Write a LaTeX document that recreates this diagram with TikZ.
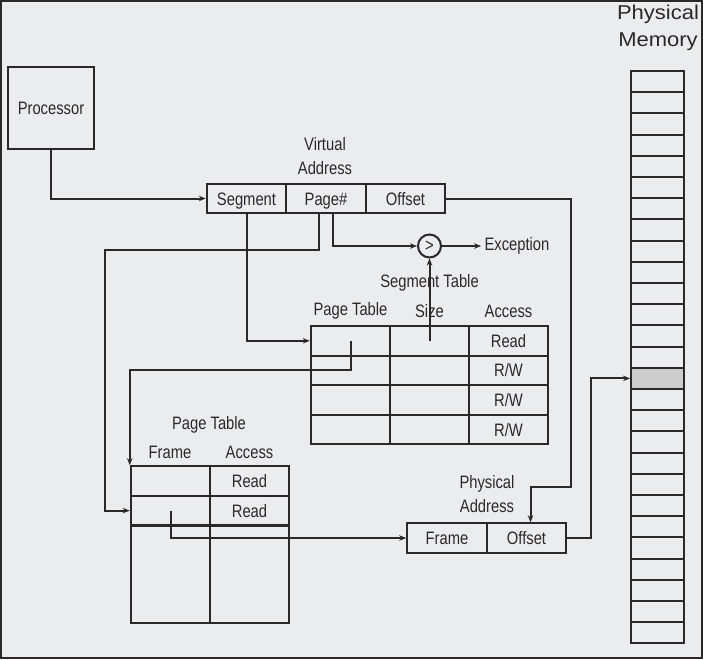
\documentclass[tikz,border=0pt]{standalone}
\usepackage{fontspec}
\setmainfont[FakeStretch=0.82]{Liberation Sans}
\newfontfamily\titlefont[FakeStretch=1.1]{Liberation Sans}
\usetikzlibrary{arrows.meta}
\definecolor{paper}{RGB}{235,236,238}
\definecolor{ink}{RGB}{45,40,40}
\definecolor{shade}{RGB}{205,205,205}
\begin{document}
\begin{tikzpicture}[x=1pt,y=-1pt,
    font=\fontsize{18}{21}\selectfont,text=ink,
    cell/.style={draw=ink,line width=2pt,inner sep=0pt,minimum width=79.5pt,minimum height=29.6pt,text height=13pt,text depth=0pt},
    memcell/.style={draw=ink,line width=2pt,inner sep=0pt,minimum width=53pt,minimum height=21.2pt},
    lbl/.style={align=center,font=\fontsize{18}{24}\selectfont},
    arr/.style={draw=ink,line width=2pt,-{Stealth[length=7pt,width=5.5pt]}}]
  \fill[paper] (0,0) rectangle (703,659);
  \draw[ink,line width=2pt] (1,1) rectangle (702,658);
  \node[draw=ink,line width=2pt,minimum width=86pt,minimum height=82pt] (proc) at (51,108) {Processor};
  \node[lbl] (valbl) at (325,156) {Virtual\\Address};
  \node[cell] (seg) at (246.5,198.5) {Segment};
  \node[cell] (pg) at (326,198.5) {Page\#};
  \node[cell] (off) at (405.5,198.5) {Offset};
  \node[draw=ink,line width=2pt,circle,minimum size=23pt,inner sep=0pt] (cmp) at (429.5,246) {>};
  \node (exc) at (517,246) {Exception};
  \draw
    (429.5,283) node (stlbl) {Segment Table}
    (350.5,311) node (stpt) {Page Table}
    (429.5,311) node (stsize) {Size}
    (508.5,311) node (stacc) {Access};
  \foreach \r in {1,...,4} {
    \node[cell] (st-\r-1) at (350.5,311.2+29.6*\r) {};
    \node[cell] (st-\r-2) at (429.5,311.2+29.6*\r) {};
    \node[cell] (st-\r-3) at (508.5,311.2+29.6*\r) {\ifnum\r=1 Read\else R/W\fi};
  }
  \draw
    (209,425) node (ptlbl) {Page Table}
    (170,452) node (ptframe) {Frame}
    (249.5,452) node (ptacc) {Access};
  \foreach \r in {1,2} {
    \node[cell] (pt-\r-1) at (170.5,451.4+29.6*\r) {};
    \node[cell] (pt-\r-2) at (249.5,451.4+29.6*\r) {Read};
  }
  \node[cell,minimum height=97pt] (pt-3-1) at (170.5,574.5) {};
  \node[cell,minimum height=97pt] (pt-3-2) at (249.5,574.5) {};
  \node[lbl] (palbl) at (487,494) {Physical\\Address};
  \node[cell] (paf) at (447,538) {Frame};
  \node[cell] (pao) at (526.5,538) {Offset};
  \node[align=center,font=\titlefont\fontsize{20}{27}\selectfont] (memlbl) at (658,28) {Physical\\Memory};
  \foreach \i in {0,...,26} {
    \ifnum\i=14 \def\memfill{shade}\else\def\memfill{none}\fi
    \node[memcell,fill=\memfill] (mem-\i) at (657.5,81.6+21.2*\i) {};
  }
  \coordinate (pgturn) at (105,250);
  \coordinate (offturn) at (571,487);
  \begin{scope}[arr]
    \draw (proc.south) |- (seg.west);
    \draw (seg.south) |- (st-1-1.west);
    \draw ([xshift=-7pt]pg.south) |- (pgturn) |- (pt-2-1.west);
    \draw ([xshift=7pt]pg.south) |- (cmp.west);
    \draw (cmp.east) -- (exc.west);
    \draw (st-1-2.center) -- (cmp.south);
    \draw (st-1-1.center) -- (st-2-1.center) -| (pt-1-1.north west);
    \draw (pt-2-1.center) |- (paf.west);
    \draw (off.east) -| (offturn) -| ([xshift=4pt]pao.north);
    \draw (pao.east) -| ([xshift=-39pt]mem-14.west) -- (mem-14.west);
  \end{scope}
\end{tikzpicture}
\end{document}
